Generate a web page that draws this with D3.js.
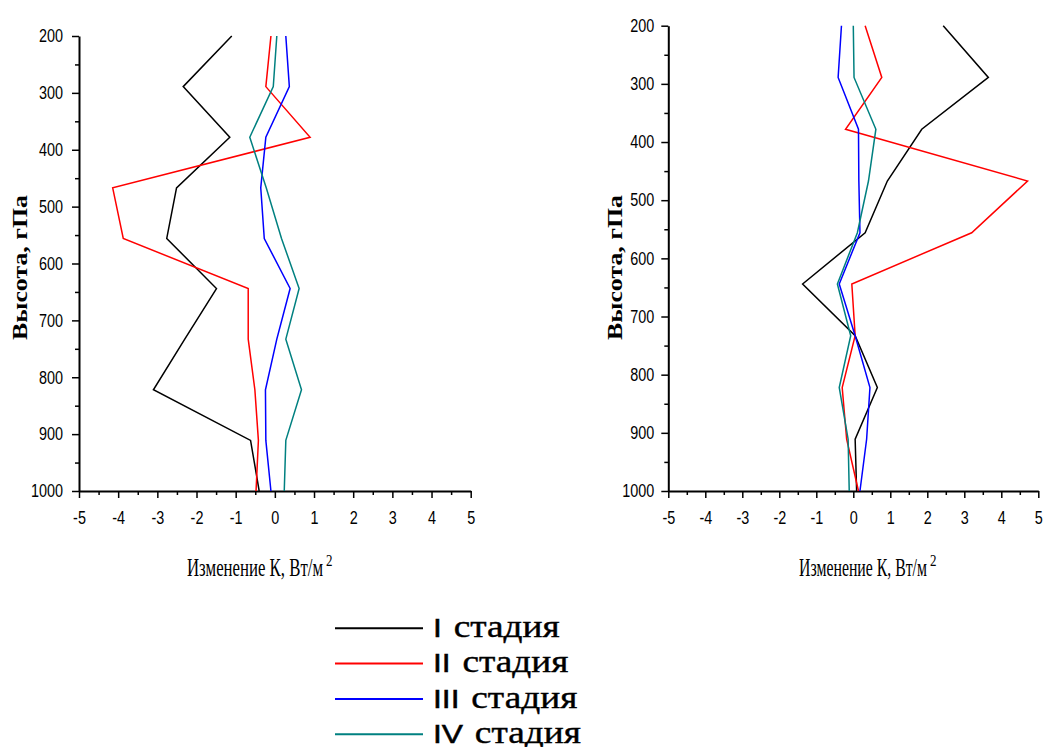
<!DOCTYPE html>
<html>
<head>
<meta charset="utf-8">
<script src="https://cdn.jsdelivr.net/npm/d3@7"></script>
<style>
  body { margin: 0; background: #fff; }
  svg { display: block; }
  .serif { font-family: "Liberation Serif", "DejaVu Serif", serif; }
  .sans { font-family: "Liberation Sans", "DejaVu Sans", sans-serif; }
</style>
</head>
<body>
<svg id="chart" width="1043" height="747"></svg>
<script>
// Pressure levels (hPa) at which each profile is given
const levels = [200, 289, 378, 467, 556, 644, 733, 822, 911, 1000];

// Left panel: change of K, W/m2, per stage
const leftStage1 = [-1.10, -2.34, -1.15, -2.51, -2.76, -1.49, -2.30, -3.10, -0.62, -0.40];
const leftStage2 = [-0.10, -0.23, 0.90, -4.14, -3.87, -0.68, -0.68, -0.51, -0.42, -0.48];
const leftStage3 = [0.28, 0.37, -0.23, -0.36, -0.27, 0.39, 0.05, -0.24, -0.23, -0.10];
const leftStage4 = [0.05, -0.04, -0.64, -0.22, 0.17, 0.62, 0.28, 0.68, 0.28, 0.24];

// Right panel
const rightStage1 = [2.43, 3.65, 1.85, 0.92, 0.32, -1.37, 0.05, 0.65, 0.05, 0.09];
const rightStage2 = [0.32, 0.77, -0.21, 4.71, 3.20, -0.04, 0.05, -0.30, -0.18, 0.14];
const rightStage3 = [-0.32, -0.41, 0.14, 0.15, 0.18, -0.38, 0.05, 0.45, 0.36, 0.18];
const rightStage4 = [0.00, 0.02, 0.61, 0.41, 0.11, -0.43, -0.07, -0.38, -0.14, -0.11];

// Stage names and colours
const stageNumerals = ["I", "II", "III", "IV"];
const stageWord = "стадия";
const stageColors = ["#000000", "#ff0000", "#0000ff", "#008080"];

// Axis ticks
const xTicks = [-5, -4, -3, -2, -1, 0, 1, 2, 3, 4, 5];
const xTickLabels = ["-5", "-4", "-3", "-2", "-1", "0", "1", "2", "3", "4", "5"];
const xMinorTicks = [-4.5, -3.5, -2.5, -1.5, -0.5, 0.5, 1.5, 2.5, 3.5, 4.5];
const yTicks = [200, 300, 400, 500, 600, 700, 800, 900, 1000];
const yMinorTicks = [250, 350, 450, 550, 650, 750, 850, 950];

const yTitle = "Высота, гПа";
const xTitle = "Изменение К, Вт/м";
const xTitleSup = "2";

const svg = d3.select("#chart");

// rescale a text horizontally by a factor of its natural width
function squeeze(sel, factor) {
  sel.each(function () {
    const w = this.getComputedTextLength();
    d3.select(this)
      .attr("textLength", w * factor)
      .attr("lengthAdjust", "spacingAndGlyphs");
  });
}

function drawPanel(cfg, series) {
  const g = svg.append("g");
  const x = d3.scaleLinear().domain([-5, 5]).range([cfg.x0, cfg.x1]);
  const y = d3.scaleLinear().domain([200, 1000]).range([cfg.y0, cfg.y1]);

  // minor ticks
  g.append("g")
    .attr("transform", `translate(0,${cfg.y1})`)
    .call(d3.axisBottom(x).tickValues(xMinorTicks).tickSize(4).tickFormat(""))
    .call(a => a.select(".domain").remove())
    .call(a => a.selectAll("line").attr("stroke-width", 1.5));
  g.append("g")
    .attr("transform", `translate(${cfg.x0},0)`)
    .call(d3.axisLeft(y).tickValues(yMinorTicks).tickSize(4).tickFormat(""))
    .call(a => a.select(".domain").remove())
    .call(a => a.selectAll("line").attr("stroke-width", 1.5));

  // major x axis
  g.append("g")
    .attr("transform", `translate(0,${cfg.y1})`)
    .call(d3.axisBottom(x).tickValues(xTicks).tickSize(7).tickSizeOuter(0).tickPadding(13)
      .tickFormat((d, i) => xTickLabels[i]))
    .call(a => a.attr("font-family", null).attr("font-size", null))
    .call(a => a.select(".domain").attr("stroke-width", 2))
    .call(a => a.selectAll("line").attr("stroke-width", 1.5))
    .call(a => a.selectAll("text")
      .attr("class", "sans").attr("font-size", 18).attr("fill", "#000")
      .call(squeeze, 0.8));

  // major y axis
  g.append("g")
    .attr("transform", `translate(${cfg.x0},0)`)
    .call(d3.axisLeft(y).tickValues(yTicks).tickSize(7).tickSizeOuter(0).tickPadding(cfg.yPad)
      .tickFormat(d3.format("d")))
    .call(a => a.attr("font-family", null).attr("font-size", null))
    .call(a => a.select(".domain").attr("stroke-width", 2))
    .call(a => a.selectAll("line").attr("stroke-width", 1.5))
    .call(a => a.selectAll("text")
      .attr("class", "sans").attr("font-size", 18).attr("fill", "#000")
      .call(squeeze, 0.8));

  // profiles
  const line = d3.line().x(d => x(d[1])).y(d => y(d[0]));
  series.forEach((vals, i) => {
    g.append("path")
      .datum(levels.map((p, k) => [p, vals[k]]))
      .attr("fill", "none")
      .attr("stroke", stageColors[i])
      .attr("stroke-width", 1.5)
      .attr("stroke-linejoin", "miter")
      .attr("d", line);
  });

  // y title
  g.append("text")
    .attr("class", "serif")
    .attr("transform", `translate(${cfg.yTitleX},${(195 + 340) / 2}) rotate(-90)`)
    .attr("text-anchor", "middle")
    .attr("font-weight", "bold")
    .attr("font-size", 21)
    .attr("textLength", 145)
    .attr("lengthAdjust", "spacingAndGlyphs")
    .text(yTitle);

  // x title with superscript
  g.append("text")
    .attr("class", "serif")
    .attr("x", cfg.xTitleX)
    .attr("y", 576)
    .attr("font-size", 26)
    .attr("textLength", cfg.xTitleLen)
    .attr("lengthAdjust", "spacingAndGlyphs")
    .text(xTitle);
  g.append("text")
    .attr("class", "serif")
    .attr("x", cfg.xTitleX + cfg.xTitleLen + 3)
    .attr("y", 566)
    .attr("font-size", 17)
    .attr("textLength", 6.5)
    .attr("lengthAdjust", "spacingAndGlyphs")
    .text(xTitleSup);
}

drawPanel({ x0: 79, x1: 470.7, y0: 36, y1: 491, yPad: 9, yTitleX: 27, xTitleX: 187, xTitleLen: 136 },
  [leftStage1, leftStage2, leftStage3, leftStage4]);
drawPanel({ x0: 668.3, x1: 1038.3, y0: 25.7, y1: 491, yPad: 7, yTitleX: 621.7, xTitleX: 799, xTitleLen: 128 },
  [rightStage1, rightStage2, rightStage3, rightStage4]);

// legend
const legend = svg.append("g");
stageNumerals.forEach((num, i) => {
  const cy = 628.3 + i * 35.3;
  legend.append("line")
    .attr("x1", 335).attr("x2", 423)
    .attr("y1", cy).attr("y2", cy)
    .attr("stroke", stageColors[i])
    .attr("stroke-width", 2);
  const numText = legend.append("text")
    .attr("class", "sans")
    .attr("x", 433)
    .attr("y", cy + 8.8)
    .attr("font-size", 26.5)
    .attr("stroke", "#000")
    .attr("stroke-width", 0.5)
    .text(num)
    .call(squeeze, 1.2);
  const numW = +numText.attr("textLength");
  legend.append("text")
    .attr("class", "serif")
    .attr("x", 433 + numW + 11.8)
    .attr("y", cy + 8.8)
    .attr("font-size", 30.5)
    .attr("stroke", "#000")
    .attr("stroke-width", 0.4)
    .attr("textLength", 106)
    .attr("lengthAdjust", "spacingAndGlyphs")
    .text(stageWord);
});
</script>
</body>
</html>
